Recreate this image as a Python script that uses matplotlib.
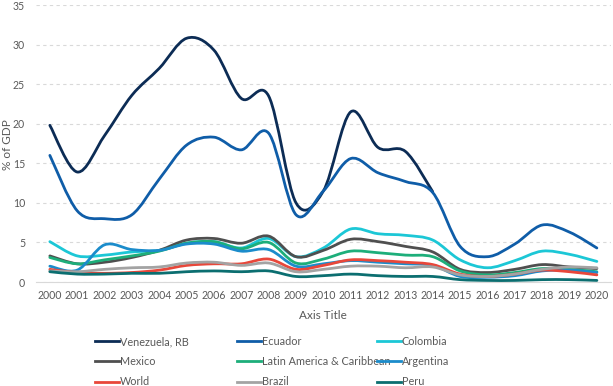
import matplotlib
matplotlib.use("Agg")
import matplotlib.pyplot as plt
from matplotlib.path import Path
from matplotlib.patches import PathPatch
from matplotlib.lines import Line2D

years = list(range(2000, 2021))

venezuela = [19.8, 13.9, 18.5, 23.6, 27.0, 30.8, 29.3, 23.2, 23.5, 10.0, 11.5, 21.5, 17.0, 16.5, 11.4]
ecuador = [16.0, 9.0, 8.0, 8.5, 13.0, 17.3, 18.3, 16.7, 18.8, 8.5, 11.5, 15.6, 13.8, 12.7, 11.3,
           4.5, 3.2, 4.8, 7.2, 6.3, 4.3]
colombia = [5.1, 3.3, 3.4, 3.8, 4.0, 4.9, 5.1, 4.3, 5.5, 3.2, 4.3, 6.7, 6.1, 5.9, 5.3,
            2.8, 1.8, 2.7, 3.9, 3.5, 2.6]
mexico = [3.3, 2.3, 2.5, 3.1, 4.0, 5.3, 5.5, 4.9, 5.8, 3.2, 4.0, 5.4, 5.1, 4.5, 3.8,
          1.6, 1.2, 1.6, 2.2, 1.9, 1.7]
latam = [3.1, 2.3, 2.8, 3.3, 3.9, 4.9, 5.1, 4.2, 5.0, 2.4, 2.9, 3.9, 3.7, 3.4, 3.2,
         1.4, 0.9, 1.2, 1.7, 1.6, 1.3]
argentina = [2.0, 1.5, 4.7, 4.1, 4.0, 4.8, 4.8, 3.9, 4.1, 2.0, 2.3, 2.7, 2.5, 2.3, 2.1,
             0.7, 0.6, 0.8, 1.4, 1.5, 1.2]
world = [1.6, 1.2, 1.1, 1.2, 1.5, 2.1, 2.3, 2.3, 2.9, 1.6, 2.1, 2.8, 2.7, 2.5, 2.2,
         1.0, 0.7, 1.0, 1.5, 1.3, 0.9]
brazil = [1.4, 1.3, 1.6, 1.8, 1.9, 2.4, 2.5, 2.1, 2.4, 1.3, 1.6, 2.0, 2.0, 1.8, 1.9,
          0.9, 0.7, 1.0, 1.6, 1.9, 1.8]
peru = [1.3, 1.0, 1.0, 1.1, 1.1, 1.3, 1.4, 1.3, 1.4, 0.7, 0.8, 1.0, 0.8, 0.7, 0.7,
        0.3, 0.2, 0.2, 0.3, 0.3, 0.2]

series_names = ["Venezuela, RB", "Ecuador", "Colombia", "Mexico", "Latin America & Caribbean",
                "Argentina", "World", "Brazil", "Peru"]
series_values = [venezuela, ecuador, colombia, mexico, latam, argentina, world, brazil, peru]
colors = ["#0C2C55", "#0F5DA8", "#1CC7D6", "#4F4F4F", "#1DAE7A", "#1B8CCB", "#E8473A",
          "#A3A3A3", "#0B6E70"]

FONT = ["Lato", "DejaVu Sans"]
plt.rcParams['font.family'] = FONT

fig = plt.figure(figsize=(6.13, 3.86), dpi=100)
ax = fig.add_axes([0.059, 0.2694, 0.937, 0.7176])


def smooth_path(xs, ys):
    pts = list(zip(xs, ys))
    n = len(pts)
    verts = [pts[0]]
    codes = [Path.MOVETO]
    for i in range(n - 1):
        p0 = pts[i - 1] if i > 0 else pts[i]
        p1 = pts[i]
        p2 = pts[i + 1]
        p3 = pts[i + 2] if i + 2 < n else pts[i + 1]
        c1 = (p1[0] + (p2[0] - p0[0]) / 6.0, p1[1] + (p2[1] - p0[1]) / 6.0)
        c2 = (p2[0] - (p3[0] - p1[0]) / 6.0, p2[1] - (p3[1] - p1[1]) / 6.0)
        verts += [c1, c2, p2]
        codes += [Path.CURVE4] * 3
    return Path(verts, codes)


for i, (vals, col) in enumerate(zip(series_values, colors)):
    xs = years[:len(vals)]
    patch = PathPatch(smooth_path(xs, vals), facecolor="none", edgecolor=col,
                      lw=2.0, capstyle="round", joinstyle="round", zorder=3 + i)
    ax.add_patch(patch)

ax.set_xlim(1999.5, 2020.5)
ax.set_ylim(0, 35)
ax.set_yticks(range(0, 36, 5))
ax.set_xticks(years)
ax.set_xticklabels([str(y) for y in years])
ax.grid(axis="y", color="#D9D9D9", linestyle=(0, (3, 3)), lw=0.8)
ax.set_axisbelow(True)
for s in ["top", "right", "left"]:
    ax.spines[s].set_visible(False)
ax.spines["bottom"].set_color("#D9D9D9")
ax.spines["bottom"].set_linewidth(0.8)
ax.tick_params(length=0, labelsize=7.6, colors="#595959", pad=6)
ax.tick_params(axis="y", pad=8)
fig.text(8 / 613.0, 1 - 145 / 386.0, "% of GDP", rotation=90, ha="center", va="center",
         fontsize=8.5, color="#595959")
ax.set_xlabel("Axis Title", fontsize=8.5, color="#595959", labelpad=6)

# legend as three columns
col_groups = [[0, 3, 6], [1, 4, 7], [2, 5, 8]]
col_x = [95, 237, 377]
for gx, grp in zip(col_x, col_groups):
    handles = [Line2D([0], [0], color=colors[k], lw=2.0) for k in grp]
    labels = [series_names[k] for k in grp]
    fig.legend(handles, labels, loc="upper left",
               bbox_to_anchor=(gx / 613.0, 1 - 336 / 386.0),
               frameon=False, fontsize=7.8, handlelength=2.2,
               handletextpad=0.1, labelspacing=0.85, borderpad=0, borderaxespad=0,
               labelcolor="#595959")

fig.savefig("out.png", dpi=100)
